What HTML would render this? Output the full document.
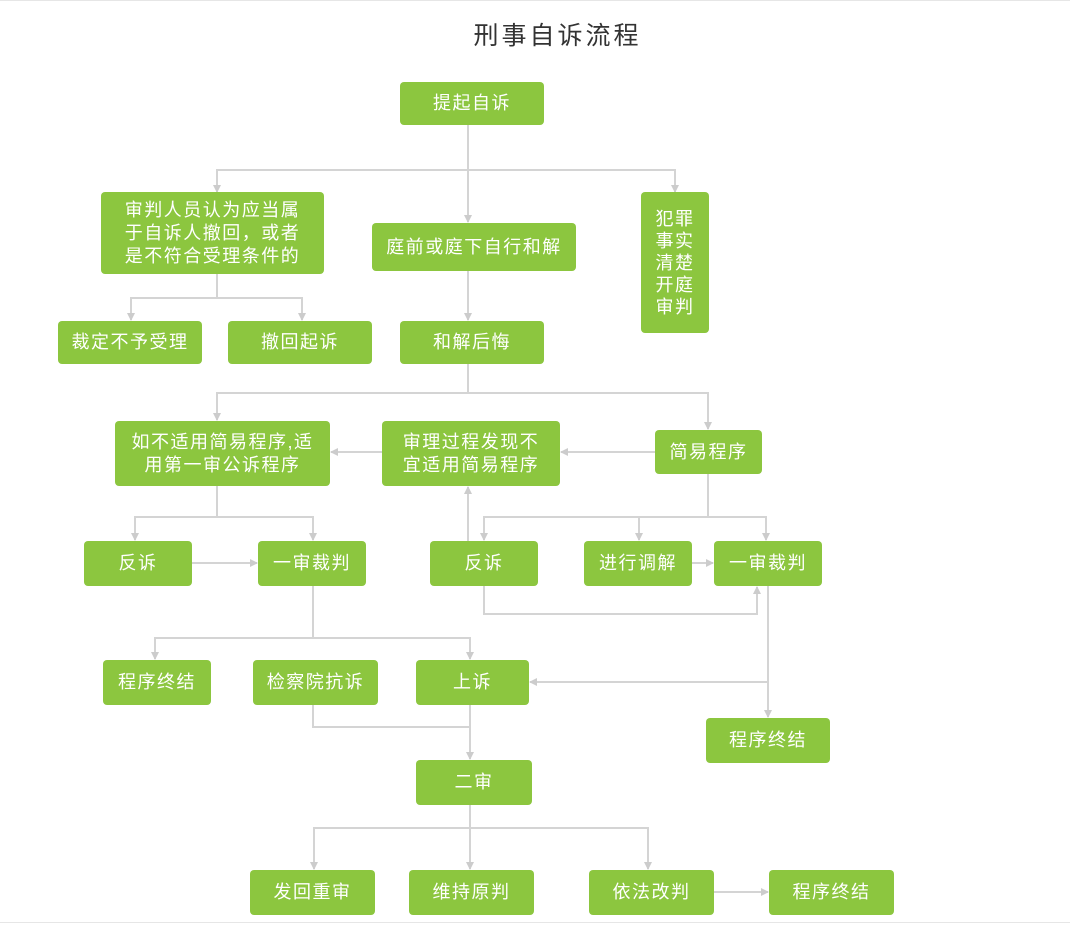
<!DOCTYPE html>
<html><head><meta charset="utf-8"><style>
body{margin:0;width:1070px;height:927px;background:#fff;position:relative;overflow:hidden;font-family:"Liberation Sans","Noto Sans CJK SC",sans-serif}
.t{position:absolute;left:0;width:1115px;top:16px;text-align:center;font-size:25px;color:#333;letter-spacing:3px}
.b{position:absolute;background:#8cc63f;color:#fff;border-radius:4px;display:flex;align-items:center;justify-content:center;text-align:center;font-size:18px;letter-spacing:1.5px;line-height:23px}
svg{position:absolute;left:0;top:0}
</style></head><body>
<div style="position:absolute;left:0;top:0;width:1070px;border-top:1px solid #e6e6e6"></div>
<div style="position:absolute;left:0;top:922px;width:1070px;border-top:1px solid #e6e6e6"></div>
<div class="t">刑事自诉流程</div>
<svg width="1070" height="927"><defs><marker id="a" markerWidth="8" markerHeight="8" refX="7" refY="4" orient="auto" markerUnits="userSpaceOnUse"><path d="M0,0L8,4L0,8z" fill="#ccc"/></marker></defs>
<g stroke="#d4d4d4" stroke-width="2" fill="none" marker-end="url(#a)">
<path d="M468 125V222"/><path d="M468 170H217V192"/><path d="M468 170H675V192"/>
<path d="M217 274V298H131V320"/><path d="M217 298H302V320"/>
<path d="M468 271V320"/>
<path d="M468 364V393H217V420"/><path d="M468 393H708V429"/>
<path d="M655 452H561"/><path d="M382 452H331"/>
<path d="M217 486V517H135V540"/><path d="M217 517H313V540"/>
<path d="M192 563H257"/>
<path d="M708 474V517H484V540"/><path d="M639 517V540"/><path d="M708 517H766V540"/>
<path d="M468 541V487"/>
<path d="M692 563H713"/>
<path d="M484 586V614H757V587"/>
<path d="M768 586V717"/><path d="M768 682H530"/>
<path d="M313 586V638H155V659"/><path d="M313 638H470V659"/>
<path d="M470 705V759"/>
<path d="M313 705V727H470" marker-end="none"/>
<path d="M470 805V828H314V869"/><path d="M470 828V869"/><path d="M470 828H648V869"/>
<path d="M714 892H768"/>
</g></svg>
<div class="b" style="left:400px;top:82px;width:144px;height:43px">提起自诉</div>
<div class="b" style="left:101px;top:192px;width:223px;height:82px">审判人员认为应当属<br>于自诉人撤回，或者<br>是不符合受理条件的</div>
<div class="b" style="left:372px;top:223px;width:204px;height:48px">庭前或庭下自行和解</div>
<div class="b" style="left:641px;top:192px;width:68px;height:141px;line-height:22px">犯罪<br>事实<br>清楚<br>开庭<br>审判</div>
<div class="b" style="left:58px;top:321px;width:144px;height:43px">裁定不予受理</div>
<div class="b" style="left:228px;top:321px;width:144px;height:43px">撤回起诉</div>
<div class="b" style="left:400px;top:321px;width:144px;height:43px">和解后悔</div>
<div class="b" style="left:115px;top:421px;width:215px;height:65px">如不适用简易程序,适<br>用第一审公诉程序</div>
<div class="b" style="left:382px;top:421px;width:178px;height:65px">审理过程发现不<br>宜适用简易程序</div>
<div class="b" style="left:655px;top:430px;width:107px;height:44px">简易程序</div>
<div class="b" style="left:84px;top:541px;width:108px;height:45px">反诉</div>
<div class="b" style="left:258px;top:541px;width:108px;height:45px">一审裁判</div>
<div class="b" style="left:430px;top:541px;width:108px;height:45px">反诉</div>
<div class="b" style="left:584px;top:541px;width:108px;height:45px">进行调解</div>
<div class="b" style="left:714px;top:541px;width:108px;height:45px">一审裁判</div>
<div class="b" style="left:103px;top:660px;width:108px;height:45px">程序终结</div>
<div class="b" style="left:253px;top:660px;width:125px;height:45px">检察院抗诉</div>
<div class="b" style="left:416px;top:660px;width:113px;height:45px">上诉</div>
<div class="b" style="left:706px;top:718px;width:124px;height:45px">程序终结</div>
<div class="b" style="left:416px;top:760px;width:116px;height:45px">二审</div>
<div class="b" style="left:250px;top:870px;width:125px;height:45px">发回重审</div>
<div class="b" style="left:409px;top:870px;width:125px;height:45px">维持原判</div>
<div class="b" style="left:589px;top:870px;width:125px;height:45px">依法改判</div>
<div class="b" style="left:769px;top:870px;width:125px;height:45px">程序终结</div>
</body></html>
